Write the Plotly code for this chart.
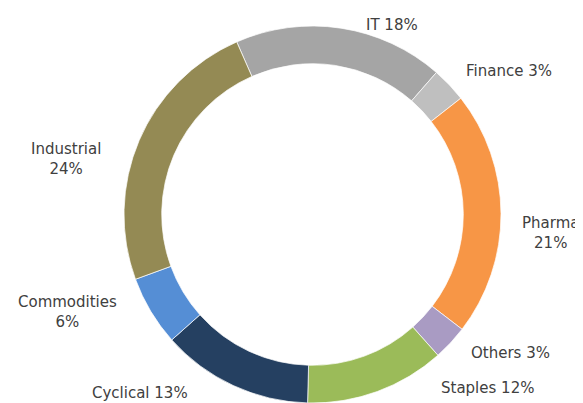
import plotly.graph_objects as go

# ---- data ----
sectors = ["IT", "Finance", "Pharma", "Others", "Staples", "Cyclical", "Commodities", "Industrial"]
weights = [18, 3, 21, 3, 12, 13, 6, 24]
label_breaks = [" ", " ", "<br>", " ", " ", " ", "<br>", "<br>"]

# ---- styling ----
colors = ["#A5A5A5", "#BFBFBF", "#F79646", "#A99BC3", "#9BBB59", "#254061", "#558ED5", "#948A54"]
OFF = 8                      # page body margin offset
W, H = 583 - OFF, 403 - OFF  # figure size so it fits the window
# label centres in window pixels (layout, placed like the Excel best-fit labels)
label_px = [(392, 25), (509, 71), (550, 233), (510, 353), (487, 388),
            (140, 393), (67.5, 311.5), (66, 158.5)]

ring_left, ring_right, ring_top = 123 - OFF, 502 - OFF, 26 - OFF

fig = go.Figure(go.Pie(
    labels=sectors,
    values=weights,
    hole=0.80,
    sort=False,
    direction="clockwise",
    rotation=-23.7,
    marker=dict(colors=colors, line=dict(color="white", width=0.7)),
    textinfo="none",
    hoverinfo="label+percent",
    domain=dict(x=[ring_left / W, ring_right / W], y=[0, 1 - ring_top / H]),
    showlegend=False,
))

total = sum(weights)
for name, v, br, (px, py) in zip(sectors, weights, label_breaks, label_px):
    fig.add_annotation(
        text=f"{name}{br}{round(100 * v / total)}%",
        x=(px - OFF) / W, y=1 - (py - OFF) / H, xref="paper", yref="paper",
        xanchor="center", yanchor="middle", showarrow=False, align="center",
        font=dict(family="DejaVu Sans", size=15, color="#404040"),
    )

fig.update_layout(
    width=W, height=H,
    margin=dict(l=0, r=0, t=0, b=0),
    paper_bgcolor="white", plot_bgcolor="white",
)
fig.write_html("out.html")
